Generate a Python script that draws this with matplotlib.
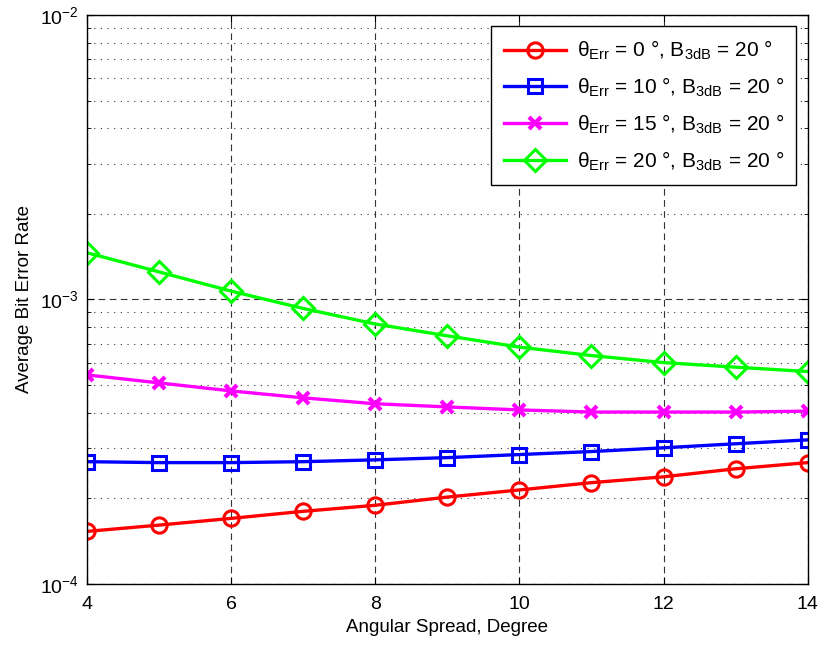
import matplotlib.pyplot as plt
from matplotlib.ticker import LogLocator, NullFormatter

plt.rcParams['font.family'] = ['Liberation Sans', 'DejaVu Sans']
plt.rcParams['mathtext.fontset'] = 'custom'
plt.rcParams['mathtext.rm'] = 'Liberation Sans'
plt.rcParams['mathtext.it'] = 'Liberation Sans'

# Data
spread = [4, 5, 6, 7, 8, 9, 10, 11, 12, 13, 14]
ber_err0 = [1.53e-4, 1.61e-4, 1.70e-4, 1.80e-4, 1.89e-4, 2.02e-4, 2.14e-4, 2.27e-4, 2.38e-4, 2.54e-4, 2.67e-4]
ber_err10 = [2.69e-4, 2.67e-4, 2.67e-4, 2.69e-4, 2.73e-4, 2.78e-4, 2.85e-4, 2.92e-4, 3.01e-4, 3.11e-4, 3.21e-4]
ber_err15 = [5.43e-4, 5.09e-4, 4.77e-4, 4.51e-4, 4.30e-4, 4.19e-4, 4.09e-4, 4.02e-4, 4.02e-4, 4.02e-4, 4.05e-4]
ber_err20 = [1.46e-3, 1.25e-3, 1.07e-3, 9.3e-4, 8.2e-4, 7.45e-4, 6.8e-4, 6.35e-4, 6.0e-4, 5.78e-4, 5.58e-4]

labels = [
    r'$\mathregular{\theta_{Err}}$ = 0 $\degree$, B$_{\mathregular{3dB}}$ = 20 $\degree$',
    r'$\mathregular{\theta_{Err}}$ = 10 $\degree$, B$_{\mathregular{3dB}}$ = 20 $\degree$',
    r'$\mathregular{\theta_{Err}}$ = 15 $\degree$, B$_{\mathregular{3dB}}$ = 20 $\degree$',
    r'$\mathregular{\theta_{Err}}$ = 20 $\degree$, B$_{\mathregular{3dB}}$ = 20 $\degree$',
]
yticks = [1e-4, 1e-3, 1e-2]
yticklabels = [r'$\mathregular{10^{-4}}$', r'$\mathregular{10^{-3}}$', r'$\mathregular{10^{-2}}$']

fig = plt.figure(figsize=(8.2, 6.51), dpi=100)
ax = fig.add_axes([0.106, 0.103, 0.879, 0.874])

ax.plot(spread, ber_err0, color='#ff0000', marker='o', lw=2.4, ms=11, mew=2.2,
        mfc='none', label=labels[0])
ax.plot(spread, ber_err10, color='#0000ff', marker='s', lw=2.4, ms=10, mew=2.2,
        mfc='none', label=labels[1])
ax.plot(spread, ber_err15, color='#ff00ff', marker='x', lw=2.4, ms=9, mew=3,
        label=labels[2])
ax.plot(spread, ber_err20, color='#00ff00', marker='D', lw=2.4, ms=11, mew=2.2,
        mfc='none', label=labels[3])

ax.set_yscale('log')
ax.set_xlim(4, 14)
ax.set_ylim(1e-4, 1e-2)
ax.set_xticks([4, 6, 8, 10, 12, 14])
ax.set_yticks(yticks)
ax.set_yticklabels(yticklabels)
ax.yaxis.set_minor_locator(LogLocator(base=10, subs=range(2, 10)))
ax.yaxis.set_minor_formatter(NullFormatter())

ax.grid(True, which='major', color='#333333', linestyle=(0, (6, 4)), lw=0.8)
ax.grid(True, which='minor', axis='y', color='#333333', linestyle=(0, (1, 5)), lw=0.8)
ax.set_axisbelow(True)

ax.tick_params(which='both', direction='in', top=True, right=True, labelsize=14)
ax.tick_params(axis='x', which='major', pad=9)
ax.tick_params(axis='y', which='major', pad=6)
ax.tick_params(which='major', length=5)
ax.tick_params(which='minor', length=3)
for s in ax.spines.values():
    s.set_linewidth(1.0)

ax.set_xlabel('Angular Spread, Degree', fontsize=13.5, labelpad=4)
ax.set_ylabel('Average Bit Error Rate', fontsize=13.5, labelpad=5)

leg = ax.legend(loc='upper right', fontsize=15, fancybox=False, framealpha=1,
                edgecolor='black', handlelength=3.0, borderaxespad=0.55,
                labelspacing=0.65, handletextpad=0.5, borderpad=0.6)
leg.get_frame().set_linewidth(1.0)

fig.savefig('out.png')
